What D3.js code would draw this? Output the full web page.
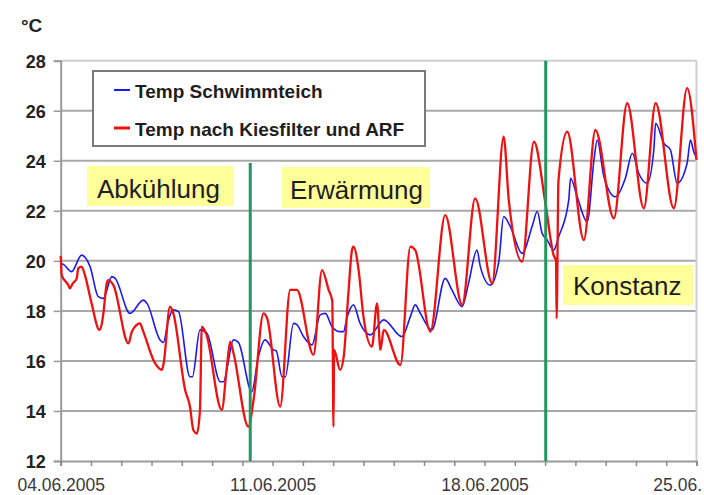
<!DOCTYPE html>
<html>
<head>
<meta charset="utf-8">
<script src="https://cdn.jsdelivr.net/npm/d3@7"></script>
<style>
  html, body { margin: 0; padding: 0; background: #fff; }
  svg { display: block; }
</style>
</head>
<body>
<svg id="chart" width="704" height="495"></svg>
<script>
// Pond temperature (blue) and temperature after gravel filter + ARF (red),
// times given in days after 04.06.2005 00:00.
const schwimmteichTime = [0.00, 0.10, 0.36, 0.69, 0.97, 1.24, 1.41, 1.69, 1.80, 2.29, 2.73, 2.85, 3.28, 3.39, 3.56, 3.72, 3.89, 4.27, 4.35, 4.60, 4.83, 5.27, 5.37, 5.71, 5.87, 6.31, 6.53, 6.75, 7.03, 7.12, 7.31, 7.42, 7.69, 7.80, 8.02, 8.30, 8.57, 8.74, 8.96, 9.23, 9.34, 9.45, 9.67, 9.89, 10.22, 10.67, 11.27, 11.55, 11.71, 11.88, 12.26, 12.70, 12.92, 13.26, 13.47, 13.75, 13.86, 14.19, 14.47, 14.63, 14.85, 15.24, 15.57, 15.74, 15.90, 16.07, 16.28, 16.45, 16.78, 16.84, 17.06, 17.39, 17.62, 17.72, 17.94, 18.32, 18.65, 18.88, 19.09, 19.37, 19.59, 19.65, 19.92, 20.14, 20.36, 20.69, 20.80, 20.90, 21.00];
const schwimmteichTemp = [19.90, 19.85, 19.57, 20.23, 19.77, 18.57, 18.50, 19.37, 19.30, 17.90, 18.43, 18.30, 16.84, 16.74, 17.64, 18.04, 17.97, 15.37, 15.37, 17.24, 17.10, 15.17, 15.17, 16.84, 16.74, 14.77, 16.17, 16.84, 16.44, 16.40, 15.37, 15.37, 17.50, 17.45, 16.97, 16.64, 17.84, 17.90, 17.37, 17.17, 17.17, 17.70, 18.24, 17.50, 17.04, 17.64, 16.97, 17.77, 18.24, 17.90, 17.24, 19.30, 18.84, 18.17, 19.10, 20.43, 19.77, 19.03, 19.97, 21.77, 21.37, 20.30, 21.37, 21.97, 21.10, 20.83, 20.43, 20.97, 22.43, 23.30, 22.56, 21.56, 24.10, 24.83, 23.37, 22.56, 23.30, 24.30, 23.50, 23.10, 24.43, 25.50, 24.70, 24.43, 23.10, 23.90, 24.83, 24.40, 24.10];

const kiesfilterTime = [0.00, 0.02, 0.03, 0.25, 0.30, 0.40, 0.53, 0.58, 0.69, 0.80, 1.02, 1.28, 1.36, 1.41, 1.52, 1.57, 1.74, 2.24, 2.35, 2.62, 2.72, 3.12, 3.34, 3.40, 3.61, 3.72, 4.11, 4.27, 4.38, 4.50, 4.60, 4.66, 4.80, 5.32, 5.49, 5.60, 5.71, 6.20, 6.37, 6.70, 6.82, 7.25, 7.58, 7.80, 8.35, 8.63, 8.85, 8.97, 9.01, 9.03, 9.23, 9.35, 9.51, 9.62, 9.67, 9.84, 10.00, 10.28, 10.45, 10.56, 10.67, 11.22, 11.55, 11.71, 12.21, 12.70, 13.26, 13.69, 14.25, 14.63, 14.80, 15.24, 15.63, 16.01, 16.28, 16.36, 16.38, 16.44, 16.73, 17.28, 17.66, 18.27, 18.71, 19.26, 19.65, 20.25, 20.69, 21.00];
const kiesfilterTemp = [20.20, 19.70, 19.43, 19.03, 18.90, 19.10, 19.30, 19.70, 19.77, 19.43, 18.30, 17.24, 17.50, 17.90, 19.10, 19.23, 19.03, 16.70, 17.17, 17.50, 17.20, 15.90, 15.64, 15.90, 18.17, 17.90, 14.84, 14.17, 13.24, 13.10, 14.04, 17.37, 17.10, 14.04, 15.77, 16.77, 16.30, 13.37, 14.44, 17.90, 17.70, 14.17, 18.84, 18.84, 16.24, 19.63, 18.84, 18.40, 13.37, 16.44, 15.64, 16.20, 18.84, 20.43, 20.57, 19.63, 17.77, 16.57, 18.30, 16.44, 17.24, 15.84, 20.57, 20.43, 17.17, 21.83, 18.24, 22.50, 19.10, 24.96, 22.43, 19.97, 24.76, 22.30, 20.23, 20.00, 17.70, 23.20, 25.16, 20.83, 25.23, 21.70, 26.30, 22.10, 26.30, 22.10, 26.90, 24.03];

// Phase markers (days after start) and their captions
const phaseLineDays = [6.26, 16.02];
const phaseLabels = ["Abkühlung", "Erwärmung", "Konstanz"];

const yTicks = [12, 14, 16, 18, 20, 22, 24, 26, 28];
const xLabelDates = ["04.06.2005", "11.06.2005", "18.06.2005", "25.06."];
const legendLabels = ["Temp Schwimmteich", "Temp nach Kiesfilter und ARF"];

const startDate = new Date(2005, 5, 4);
const endDate = new Date(2005, 5, 25);
const toDate = d => new Date(startDate.getTime() + d * 864e5);

const svg = d3.select("#chart");
const font = "'Liberation Sans', Arial, sans-serif";

const x = d3.scaleTime().domain([startDate, endDate]).range([60.7, 696.5]);
const y = d3.scaleLinear().domain([12, 28]).range([461, 60.7]);

// horizontal gridlines
svg.append("g").selectAll("line")
  .data(yTicks.filter(t => t > 12))
  .join("line")
  .attr("x1", x.range()[0]).attr("x2", x.range()[1])
  .attr("y1", d => y(d)).attr("y2", d => y(d))
  .attr("stroke", d => d === 28 ? "#cfcfcf" : "#a8a8a8")
  .attr("stroke-width", 2);

// right frame
svg.append("line")
  .attr("x1", x.range()[1]).attr("x2", x.range()[1])
  .attr("y1", y(28)).attr("y2", y(12))
  .attr("stroke", "#cfcfcf").attr("stroke-width", 2);

// y axis
const yAxis = d3.axisLeft(y).tickValues(yTicks).tickSize(7).tickFormat(d3.format("d"));
const gy = svg.append("g").attr("transform", `translate(${x.range()[0]},0)`).call(yAxis);
gy.select(".domain").attr("stroke", "#9a9a9a").attr("stroke-width", 2);
gy.selectAll(".tick line").attr("stroke", "#9a9a9a").attr("stroke-width", 1.5);
gy.selectAll(".tick text")
  .attr("x", -15).attr("dy", "0.36em")
  .style("font-family", font).style("font-size", "18px").style("font-weight", "bold")
  .attr("fill", "#222");

// x axis: daily ticks, labels weekly
const xAxis = d3.axisBottom(x)
  .ticks(d3.timeDay.every(1))
  .tickSize(5)
  .tickFormat(d => {
    const i = Math.round((d - startDate) / 864e5);
    return i % 7 === 0 ? xLabelDates[i / 7] : "";
  });
const gx = svg.append("g").attr("transform", `translate(0,${y(12)})`).call(xAxis);
gx.select(".domain").attr("stroke", "#9a9a9a").attr("stroke-width", 2);
gx.selectAll(".tick line").attr("stroke", "#8a8a8a").attr("stroke-width", 1.5);
gx.selectAll(".tick text")
  .attr("y", 30).attr("dy", 0)
  .style("font-family", font).style("font-size", "17.5px")
  .attr("fill", "#3a3a3a");
// last label sits against the right edge
gx.selectAll(".tick text").filter(d => +d === +endDate)
  .attr("text-anchor", "end").attr("x", 5);

// unit label
svg.append("text").attr("x", 21).attr("y", 32)
  .style("font-family", font).style("font-size", "19px").style("font-weight", "bold")
  .attr("fill", "#222").text("°C");

// series
const line = d3.line().x(d => x(toDate(d[0]))).y(d => y(d[1])).curve(d3.curveMonotoneX);
const blueData = d3.zip(schwimmteichTime, schwimmteichTemp);
const redData = d3.zip(kiesfilterTime, kiesfilterTemp);

svg.append("path").datum(blueData).attr("d", line)
  .attr("fill", "none").attr("stroke", "#1a1aee").attr("stroke-width", 1.6)
  .attr("stroke-linejoin", "round");
svg.append("path").datum(redData).attr("d", line)
  .attr("fill", "none").attr("stroke", "#f01010").attr("stroke-width", 2.3)
  .attr("stroke-linejoin", "round");

// phase boundaries
svg.append("line")
  .attr("x1", x(toDate(phaseLineDays[0]))).attr("x2", x(toDate(phaseLineDays[0])))
  .attr("y1", 163).attr("y2", y(12))
  .attr("stroke", "#23965f").attr("stroke-width", 3);
svg.append("line")
  .attr("x1", x(toDate(phaseLineDays[1]))).attr("x2", x(toDate(phaseLineDays[1])))
  .attr("y1", y(28)).attr("y2", y(12))
  .attr("stroke", "#23965f").attr("stroke-width", 3);

// phase captions on yellow boxes
const boxes = [
  { x: 87, y: 166, w: 147, h: 40, tx: 97, ty: 198 },
  { x: 282, y: 167, w: 148, h: 41, tx: 290, ty: 199 },
  { x: 563, y: 265, w: 130, h: 40, tx: 573, ty: 295 }
];
boxes.forEach((b, i) => {
  svg.append("rect").attr("x", b.x).attr("y", b.y).attr("width", b.w).attr("height", b.h)
    .attr("fill", "#ffff99");
  svg.append("text").attr("x", b.tx).attr("y", b.ty)
    .style("font-family", font).style("font-size", "26px")
    .attr("fill", "#1e1e1e").text(phaseLabels[i]);
});

// legend
const lg = svg.append("g");
lg.append("rect").attr("x", 93).attr("y", 71).attr("width", 332).attr("height", 75)
  .attr("fill", "#fff").attr("stroke", "#7a7a7a").attr("stroke-width", 2);
const legendColors = ["#1a1aee", "#f01010"];
const legendWidths = [2, 3];
legendLabels.forEach((t, i) => {
  const cy = 90 + i * 38;
  lg.append("line").attr("x1", 114).attr("x2", 130).attr("y1", cy).attr("y2", cy)
    .attr("stroke", legendColors[i]).attr("stroke-width", legendWidths[i]);
  lg.append("text").attr("x", 135).attr("y", cy + 8)
    .style("font-family", font).style("font-size", "19px").style("font-weight", "bold")
    .attr("fill", "#1e1e1e").text(t);
});
</script>
</body>
</html>
